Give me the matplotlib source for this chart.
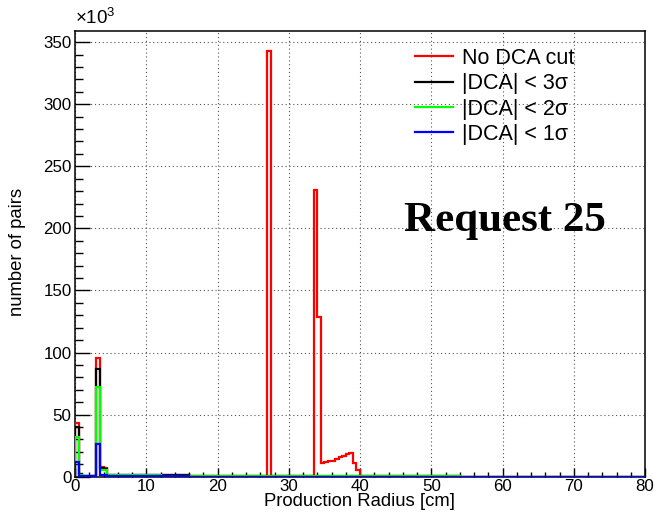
import matplotlib
matplotlib.use("Agg")
import matplotlib.pyplot as plt
from matplotlib.lines import Line2D
from matplotlib.ticker import MultipleLocator, FuncFormatter

plt.rcParams["font.family"] = ["Liberation Sans", "DejaVu Sans"]
plt.rcParams["mathtext.fontset"] = "custom"
plt.rcParams["mathtext.rm"] = "Liberation Sans"
plt.rcParams["mathtext.it"] = "Liberation Sans:italic"

# Production radius histograms (bin edges in cm, counts in pairs)
edges_nocut = [0, 0.5, 1.0, 3.0, 3.5, 4.0, 4.5, 16.0, 27.0, 27.5, 33.5, 34.0, 34.5,
               35.0, 35.5, 36.0, 36.5, 37.0, 37.5, 38.0, 38.5, 39.0, 39.5, 40.0, 54.0, 80.0]
counts_nocut = [43000, 2500, 400, 95400, 8000, 7000, 1000, 900, 343000, 900, 231000, 128500,
                11000, 11500, 12300, 13000, 14000, 15500, 16500, 18500, 19000, 11000, 5000,
                900, 0]

edges_3sigma = [0, 0.5, 1.0, 3.0, 3.5, 4.0, 4.5, 16.0, 54.0, 80.0]
counts_3sigma = [40000, 2000, 400, 86800, 7000, 6000, 1000, 300, 0]

edges_2sigma = [0, 0.5, 1.0, 3.0, 3.5, 4.0, 4.5, 12.0, 54.0, 80.0]
counts_2sigma = [32000, 1500, 400, 72500, 5500, 5000, 1000, 200, 0]

edges_1sigma = [0, 0.5, 1.0, 3.0, 3.5, 4.0, 4.5, 16.0, 80.0]
counts_1sigma = [12000, 800, 300, 26000, 1500, 1000, 300, 0]

labels = ["No DCA cut", "|DCA| < 3σ", "|DCA| < 2σ", "|DCA| < 1σ"]
colors = ["#ff0000", "#000000", "#00ff00", "#0000ff"]

x_range = (0, 80)
y_max = 359000

W, H = 654, 517
fig = plt.figure(figsize=(W / 100, H / 100), dpi=100)
ax = fig.add_axes([75 / W, 1 - 476.7 / H, 570 / W, 445.7 / H])

series = [
    (edges_nocut, counts_nocut),
    (edges_3sigma, counts_3sigma),
    (edges_2sigma, counts_2sigma),
    (edges_1sigma, counts_1sigma),
]
for (edges, counts), color in zip(series, colors):
    ax.stairs(counts, edges, baseline=0, color=color, lw=1.6, zorder=3)

ax.set_xlim(*x_range)
ax.set_ylim(0, y_max)

ax.xaxis.set_major_locator(MultipleLocator(10))
ax.xaxis.set_minor_locator(MultipleLocator(2))
ax.yaxis.set_major_locator(MultipleLocator(50000))
ax.yaxis.set_minor_locator(MultipleLocator(10000))
ax.yaxis.set_major_formatter(FuncFormatter(lambda v, p: f"{v / 1000:g}"))

ax.set_axisbelow(True)
ax.grid(True, which="major", color="#555555", lw=0.8, ls=(0, (1, 2.5)))

ax.tick_params(which="both", top=False, right=False, direction="in", width=1.0)
ax.xaxis.set_tick_params(which="major", length=6.5, labelsize=12.2, pad=1.5)
ax.xaxis.set_tick_params(which="minor", length=3.3)
ax.yaxis.set_tick_params(which="major", length=10.5, labelsize=12.2, pad=2.5)
ax.yaxis.set_tick_params(which="minor", length=5.5)
for side in ["left", "bottom", "top", "right"]:
    ax.spines[side].set_linewidth(1.1)

ax.text(0, 1.006, r"$\times$10$^{3}$", transform=ax.transAxes, ha="left", va="bottom",
        fontsize=13.5)

fig.text(360 / W, 1 - 502 / H, "Production Radius [cm]", ha="center", va="center",
         fontsize=13.3)
fig.text(18 / W, 1 - 252 / H, "number of pairs", ha="center", va="center",
         rotation=90, fontsize=13.3)

handles = [Line2D([], [], color=c, lw=1.6) for c in colors]
ax.legend(handles, labels, loc="upper left", bbox_to_anchor=(415 / W, 1 - 48 / H),
          bbox_transform=fig.transFigure, frameon=False, fontsize=15.5, borderpad=0,
          borderaxespad=0, handlelength=1.75, handletextpad=0.45, labelspacing=0.2)

fig.text(505 / W, 1 - 221 / H, "Request 25", ha="center", va="center",
         fontsize=31, fontweight="bold", family="Liberation Serif")

fig.savefig("out.png", dpi=100)
